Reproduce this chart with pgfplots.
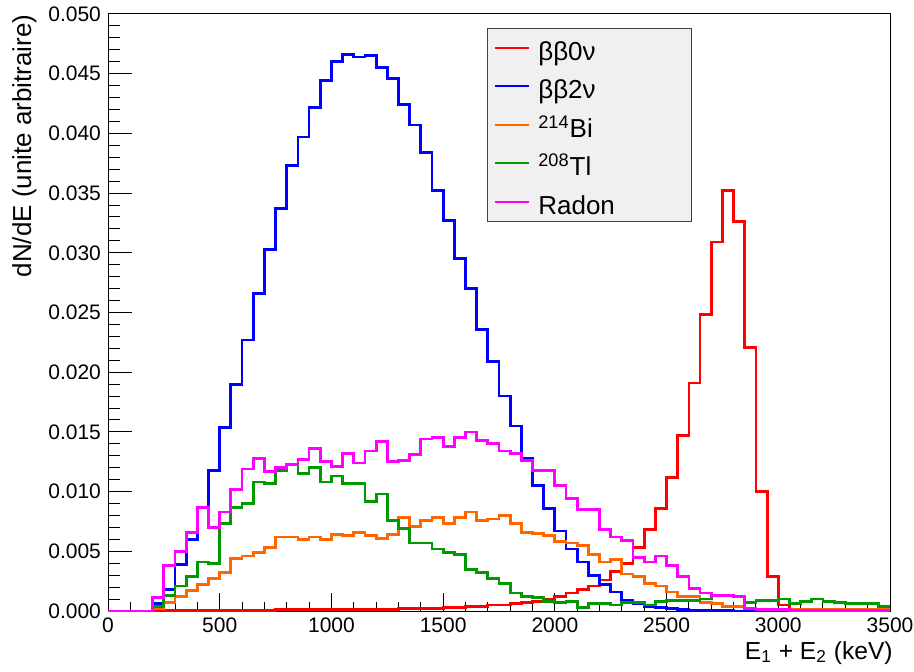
\documentclass[border=0pt]{standalone}
\usepackage{fontspec}
\setmainfont{Liberation Sans}
\usepackage{pgfplots}
\pgfplotsset{compat=1.18}
\usepackage{pgfplotstable}

\definecolor{hred}{RGB}{255,0,0}
\definecolor{hblue}{RGB}{0,0,255}
\definecolor{horange}{RGB}{255,102,0}
\definecolor{hgreen}{RGB}{0,153,0}
\definecolor{hmagenta}{RGB}{255,0,255}

% 50 keV bins, left edge in column E; last row closes the last bin
\pgfplotstableread{
E     bb0n     bb2n     bi      tl      rn
0     0        0        0       0       0
50    0        0        0       0       0
100   0        0        0       0       0
150   0        0        0       0       0
200   0        0.0006   0.0002  0.0004  0.0011
250   0.00005  0.0018   0.0007  0.0013  0.0038
300   0.00005  0.0039   0.0012  0.0021  0.0050
350   0.00005  0.0060   0.0017  0.0029  0.0066
400   0.00005  0.0087   0.0022  0.0041  0.0087
450   0.00005  0.0118   0.0027  0.0040  0.0070
500   0.00005  0.0154   0.0032  0.0073  0.0083
550   0.00005  0.0190   0.0044  0.0087  0.0102
600   0.00005  0.0227   0.0046  0.0090  0.0119
650   0.00005  0.0266   0.0049  0.0108  0.0128
700   0.00005  0.0303   0.0053  0.0107  0.0117
750   0.0001   0.0337   0.0062  0.0118  0.0120
800   0.0001   0.0373   0.0062  0.0123  0.0123
850   0.0001   0.0397   0.0060  0.0115  0.0127
900   0.0001   0.0422   0.0062  0.0120  0.0136
950   0.0001   0.0444   0.0060  0.0108  0.0125
1000  0.00015  0.0460   0.0064  0.0113  0.0121
1050  0.00015  0.0466   0.0063  0.0107  0.0132
1100  0.00015  0.0464   0.0066  0.0107  0.0124
1150  0.00015  0.0465   0.0063  0.0092  0.0134
1200  0.00015  0.0455   0.0061  0.0098  0.0142
1250  0.00015  0.0446   0.0064  0.0076  0.0125
1300  0.0002   0.0424   0.0078  0.0069  0.0126
1350  0.0002   0.0407   0.0071  0.0057  0.0131
1400  0.0002   0.0384   0.0076  0.0057  0.0144
1450  0.0002   0.0352   0.0078  0.0052  0.0145
1500  0.0003   0.0327   0.0073  0.0049  0.0138
1550  0.0003   0.0295   0.0078  0.0047  0.0145
1600  0.0004   0.0270   0.0083  0.0035  0.0150
1650  0.0004   0.0236   0.0076  0.0032  0.0143
1700  0.0005   0.0209   0.0077  0.0027  0.0140
1750  0.0005   0.0180   0.0080  0.0023  0.0134
1800  0.0006   0.0155   0.0073  0.0015  0.0132
1850  0.0007   0.0128   0.0066  0.0012  0.0126
1900  0.0008   0.0105   0.0065  0.0011  0.0118
1950  0.0010   0.0086   0.0063  0.0008  0.0118
2000  0.0012   0.0067   0.0058  0.0007  0.0105
2050  0.0015   0.0052   0.0057  0.0008  0.0094
2100  0.0018   0.0041   0.0055  0.0003  0.0085
2150  0.0021   0.0030   0.0047  0.0006  0.0085
2200  0.0026   0.0022   0.0041  0.0006  0.0068
2250  0.0033   0.0016   0.0043  0.0005  0.0062
2300  0.0040   0.0009   0.0031  0.0007  0.0059
2350  0.0053   0.0006   0.0029  0.0007  0.0045
2400  0.0068   0.0004   0.0023  0.0005  0.0041
2450  0.0086   0.0003   0.0021  0.0008  0.0046
2500  0.0112   0.0002   0.0016  0.0009  0.0038
2550  0.0147   0.0001   0.0012  0.0009  0.0029
2600  0.0191   0.00005  0.0012  0.0009  0.0019
2650  0.0248   0.00005  0.0007  0.0010  0.0015
2700  0.0309   0.00005  0.0006  0.0013  0.0013
2750  0.0352   0.00005  0.0004  0.0013  0.0013
2800  0.0326   0        0.0004  0.0012  0.0012
2850  0.0221   0        0.0002  0.0007  0.0002
2900  0.0100   0        0.0001  0.0009  0.0001
2950  0.0029   0        0.0001  0.0009  0.0001
3000  0.0005   0        0.0001  0.0010  0.0001
3050  0        0        0.0001  0.0006  0.00005
3100  0        0        0.0001  0.0008  0.00005
3150  0        0        0.0001  0.0010  0.00005
3200  0        0        0.0001  0.0008  0.00005
3250  0        0        0.0001  0.0007  0.00005
3300  0        0        0.0001  0.0006  0.00005
3350  0        0        0.0001  0.0006  0.00005
3400  0        0        0.0001  0.0006  0.00005
3450  0        0        0.0001  0.0004  0.00005
3500  0        0        0.0001  0.0004  0.00005
}\spectra

\newcommand{\entry}[1]{\makebox[71pt][l]{\rule[-5pt]{0pt}{18.75pt}#1}}

\begin{document}
\begin{tikzpicture}
\path[use as bounding box] (-54pt,-30pt) rectangle (403pt,305.5pt);
\begin{axis}[
  at={(0,0)}, anchor=south west,
  scale only axis,
  width=391pt, height=298.5pt,
  xmin=0, xmax=3500,
  ymin=0, ymax=0.05,
  clip=false,
  axis line style={black, line width=0.5pt},
  tick pos=left,
  tick align=inside,
  major tick length=12pt,
  minor tick length=6pt,
  tick style={black, line width=0.5pt},
  x tick style={yscale=0.75},
  xtick={0,500,...,3500},
  ytick={0,0.005,0.01,0.015,0.02,0.025,0.03,0.035,0.04,0.045,0.05},
  minor x tick num=4,
  minor y tick num=4,
  scaled y ticks=false,
  /pgf/number format/assume math mode=true,
  tick label style={font=\fontsize{10.5}{12}\selectfont},
  xticklabel style={/pgf/number format/set thousands separator={}},
  yticklabel style={/pgf/number format/fixed, /pgf/number format/fixed zerofill,
                    /pgf/number format/precision=3},
  xlabel={E\textsubscript{1} + E\textsubscript{2} (keV)},
  ylabel={dN/dE (unite arbitraire)},
  label style={font=\fontsize{13}{15}\selectfont, inner sep=0pt},
  x label style={at={(axis description cs:1,0)}, anchor=north east, yshift=-15pt, xshift=1.5pt,
                 font=\fontsize{12.3}{14}\selectfont},
  y label style={at={(axis description cs:-0.091,1)}, anchor=south east},
  legend cell align=left,
  legend image code/.code={\draw[#1, line width=0.9pt] (0pt,0pt) -- (17pt,0pt);},
  legend style={at={(axis description cs:0.4847,0.9765)}, anchor=north west,
                draw=black!75, fill=black!6, line width=0.5pt,
                inner xsep=3.5pt, inner ysep=0pt, column sep=2pt, row sep=0pt,
                font=\fontsize{13}{15}\selectfont},
  every axis plot/.append style={const plot mark left, line width=1.4pt, no markers},
]
\addplot[hred] table[x=E, y=bb0n] {\spectra};
\addlegendentry{\entry{ββ0ν}}
\addplot[hblue] table[x=E, y=bb2n] {\spectra};
\addlegendentry{\entry{ββ2ν}}
\addplot[horange] table[x=E, y=bi] {\spectra};
\addlegendentry{\entry{\textsuperscript{214}Bi}}
\addplot[hgreen] table[x=E, y=tl] {\spectra};
\addlegendentry{\entry{\textsuperscript{208}Tl}}
\addplot[hmagenta] table[x=E, y=rn] {\spectra};
\addlegendentry{\entry{Radon}}
\end{axis}
\end{tikzpicture}
\end{document}
